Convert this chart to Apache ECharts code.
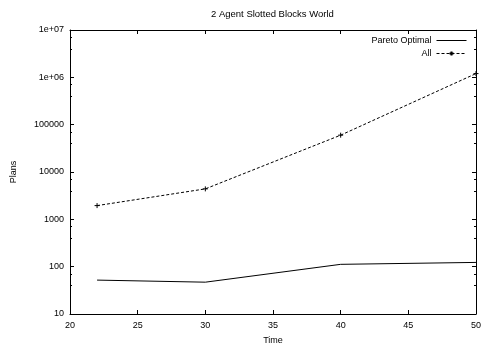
<!DOCTYPE html>
<html><head><meta charset="utf-8">
<script src="https://cdn.jsdelivr.net/npm/echarts@6/dist/echarts.min.js"></script>
<style>html,body{margin:0;padding:0;background:#fff}#c{width:484px;height:350px}</style>
</head><body><div id="c"></div>
<script>
var times = [22, 30, 40, 50];
var paretoOptimal = [52, 47, 112, 123];
var allPlans = [1950, 4400, 60000, 1200000];
var xTicks = [20, 25, 30, 35, 40, 45, 50];
var yTickLabels = {10:'10',100:'100',1000:'1000',10000:'10000',100000:'100000',1000000:'1e+06',10000000:'1e+07'};

var font = 'Liberation Sans, Arial, sans-serif';
var plus = 'path://M0,2.5L5,2.5M2.5,0L2.5,5';
var chart = echarts.init(document.getElementById('c'), null, {renderer:'canvas'});
var axisCommon = {
  axisLine:{show:true,lineStyle:{color:'#000',width:1}},
  axisTick:{show:true,inside:true,length:4,lineStyle:{color:'#000'}},
  splitLine:{show:false}
};
chart.setOption({
  animation:false,
  backgroundColor:'#fff',
  title:{text:'2 Agent Slotted Blocks World',left:211,top:9,padding:0,
    textStyle:{fontFamily:font,fontSize:9.5,fontWeight:'normal',color:'#000'}},
  legend:{orient:'vertical',right:17,top:36,padding:0,align:'right',itemWidth:30,itemHeight:5,itemGap:4,
    lineStyle:{width:1},
    textStyle:{fontFamily:font,fontSize:9,color:'#000',padding:[0,0,0,0]},
    data:[{name:'Pareto Optimal',itemStyle:{opacity:0}},{name:'All'}]},
  grid:{left:70,right:6,top:30,bottom:34},
  xAxis:[Object.assign({type:'value',min:20,max:50,interval:5,position:'bottom',
      name:'Time',nameLocation:'middle',nameGap:22,
      nameTextStyle:{fontFamily:font,fontSize:9,color:'#000'},
      axisLabel:{fontFamily:font,fontSize:9,color:'#000',margin:7,
        formatter:function(v){return xTicks.indexOf(v)>=0?String(v):'';}}},axisCommon),
    Object.assign({type:'value',min:20,max:50,interval:5,position:'top',axisLabel:{show:false}},axisCommon)],
  yAxis:[Object.assign({type:'log',logBase:10,min:10,max:10000000,position:'left',
      name:'Plans',nameLocation:'middle',nameGap:52,
      nameTextStyle:{fontFamily:font,fontSize:9,color:'#000'},
      minorTick:{show:true,splitNumber:3,length:2,lineStyle:{color:'#000'}},
      axisLabel:{fontFamily:font,fontSize:9,color:'#000',margin:6,
        formatter:function(v){return yTickLabels[Math.round(v)]||'';}}},axisCommon),
    Object.assign({type:'log',logBase:10,min:10,max:10000000,position:'right',
      minorTick:{show:true,splitNumber:3,length:2,lineStyle:{color:'#000'}},
      axisLabel:{show:false}},axisCommon)],
  series:[
    {name:'Pareto Optimal',type:'line',data:times.map(function(t,i){return [t,paretoOptimal[i]];}),
      showSymbol:false,symbol:'none',lineStyle:{color:'#000',width:1},itemStyle:{color:'#000'}},
    {name:'All',type:'line',data:times.map(function(t,i){return [t,allPlans[i]];}),
      symbol:plus,symbolSize:5,showSymbol:true,
      lineStyle:{color:'#000',width:1,type:[3,2]},
      itemStyle:{color:'none',borderColor:'#000',borderWidth:1}}
  ]
});
</script></body></html>
